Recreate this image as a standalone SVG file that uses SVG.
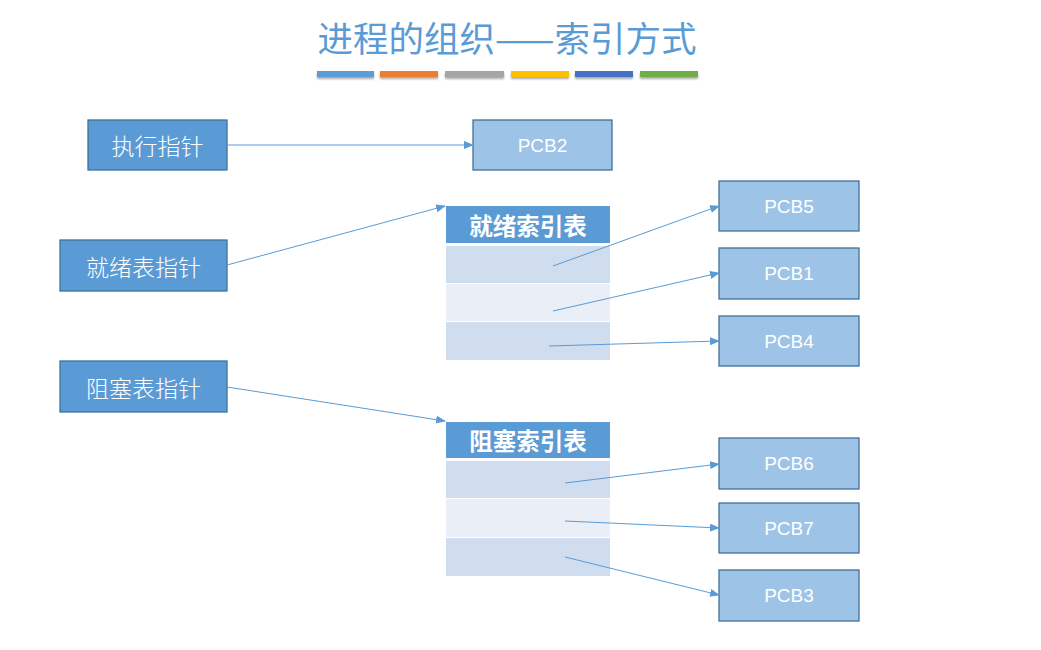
<svg xmlns="http://www.w3.org/2000/svg" width="1041" height="650" viewBox="0 0 1041 650">
<defs>
<marker id="ah" markerWidth="10" markerHeight="8" refX="9" refY="4" orient="auto" markerUnits="userSpaceOnUse">
<path d="M0,0 L10,4 L0,8 Z" fill="#5B9BD5"/>
</marker>
<filter id="sh" x="-10%" y="-100%" width="120%" height="400%">
<feGaussianBlur in="SourceAlpha" stdDeviation="1"/>
<feOffset dx="0" dy="2"/>
<feComponentTransfer><feFuncA type="linear" slope="0.35"/></feComponentTransfer>
<feMerge><feMergeNode/><feMergeNode in="SourceGraphic"/></feMerge>
</filter>
</defs>
<style>
.ptr{fill:#5B9BD5;stroke:#41719C;stroke-width:1.3}
.pcb{fill:#9DC3E6;stroke:#41719C;stroke-width:1.3}
.hdr{fill:#5B9BD5}
.rowA{fill:#D0DDEE}
.rowB{fill:#E9EEF7}
.t{font-family:"Noto Sans CJK SC","Liberation Sans",sans-serif;fill:#FFFFFF;text-anchor:middle;dominant-baseline:central}
.lbl{font-size:23px;font-weight:300}
.pt{font-family:"Liberation Sans","Noto Sans",sans-serif;font-size:19px}
.hd{font-size:23.5px;font-weight:bold}
.ln{stroke:#5B9BD5;stroke-width:1;fill:none;marker-end:url(#ah)}
</style>
<text x="507" y="36" font-family="Noto Sans CJK SC, sans-serif" font-size="35.5" fill="#5B9BD5" text-anchor="middle" dominant-baseline="central">进程的组织——索引方式</text>
<g id="bars" filter="url(#sh)">
<rect x="317" y="71" width="57" height="6" fill="#5B9BD5"/>
<rect x="380" y="71" width="58" height="6" fill="#ED7D31"/>
<rect x="445" y="71" width="59" height="6" fill="#A5A5A5"/>
<rect x="511" y="71" width="58" height="6" fill="#FFC000"/>
<rect x="575" y="71" width="58" height="6" fill="#4472C4"/>
<rect x="640" y="71" width="58" height="6" fill="#70AD47"/>
</g>
<g id="exec-ptr"><rect class="ptr" x="88" y="120" width="139" height="50"/><text class="t lbl" x="157.5" y="145">执行指针</text></g>
<g id="ready-ptr"><rect class="ptr" x="60" y="240" width="167" height="51"/><text class="t lbl" x="143.5" y="265.5">就绪表指针</text></g>
<g id="block-ptr"><rect class="ptr" x="60" y="361" width="167" height="51"/><text class="t lbl" x="143.5" y="386.5">阻塞表指针</text></g>
<g id="pcb2"><rect class="pcb" x="473" y="120" width="139" height="50"/><text class="t pt" x="542.5" y="145">PCB2</text></g>
<g id="ready-table">
<rect class="hdr" x="446" y="206" width="164" height="37"/>
<text class="t hd" x="528" y="224.5">就绪索引表</text>
<rect class="rowA" x="446" y="246" width="164" height="37"/>
<rect class="rowB" x="446" y="284" width="164" height="37"/>
<rect class="rowA" x="446" y="322" width="164" height="38"/>
</g>
<g id="block-table">
<rect class="hdr" x="446" y="422" width="164" height="36"/>
<text class="t hd" x="528" y="440">阻塞索引表</text>
<rect class="rowA" x="446" y="461" width="164" height="37"/>
<rect class="rowB" x="446" y="499" width="164" height="38"/>
<rect class="rowA" x="446" y="538" width="164" height="38"/>
</g>
<g id="pcb5"><rect class="pcb" x="719" y="181" width="140" height="50"/><text class="t pt" x="789" y="206">PCB5</text></g>
<g id="pcb1"><rect class="pcb" x="719" y="248" width="140" height="51"/><text class="t pt" x="789" y="273.5">PCB1</text></g>
<g id="pcb4"><rect class="pcb" x="719" y="316" width="140" height="50"/><text class="t pt" x="789" y="341">PCB4</text></g>
<g id="pcb6"><rect class="pcb" x="719" y="438" width="140" height="51"/><text class="t pt" x="789" y="463.5">PCB6</text></g>
<g id="pcb7"><rect class="pcb" x="719" y="503" width="140" height="50"/><text class="t pt" x="789" y="528">PCB7</text></g>
<g id="pcb3"><rect class="pcb" x="719" y="570" width="140" height="51"/><text class="t pt" x="789" y="595.5">PCB3</text></g>
<g id="connectors">
<line class="ln" x1="227" y1="145" x2="473" y2="145"/>
<line class="ln" x1="227" y1="265" x2="445" y2="206"/>
<line class="ln" x1="227" y1="387" x2="445" y2="421"/>
<line class="ln" x1="553" y1="266" x2="719" y2="206"/>
<line class="ln" x1="553" y1="311" x2="719" y2="273"/>
<line class="ln" x1="549" y1="346" x2="719" y2="341"/>
<line class="ln" x1="565" y1="483" x2="719" y2="464"/>
<line class="ln" x1="565" y1="521" x2="719" y2="528"/>
<line class="ln" x1="565" y1="557" x2="719" y2="595"/>
</g>
</svg>
